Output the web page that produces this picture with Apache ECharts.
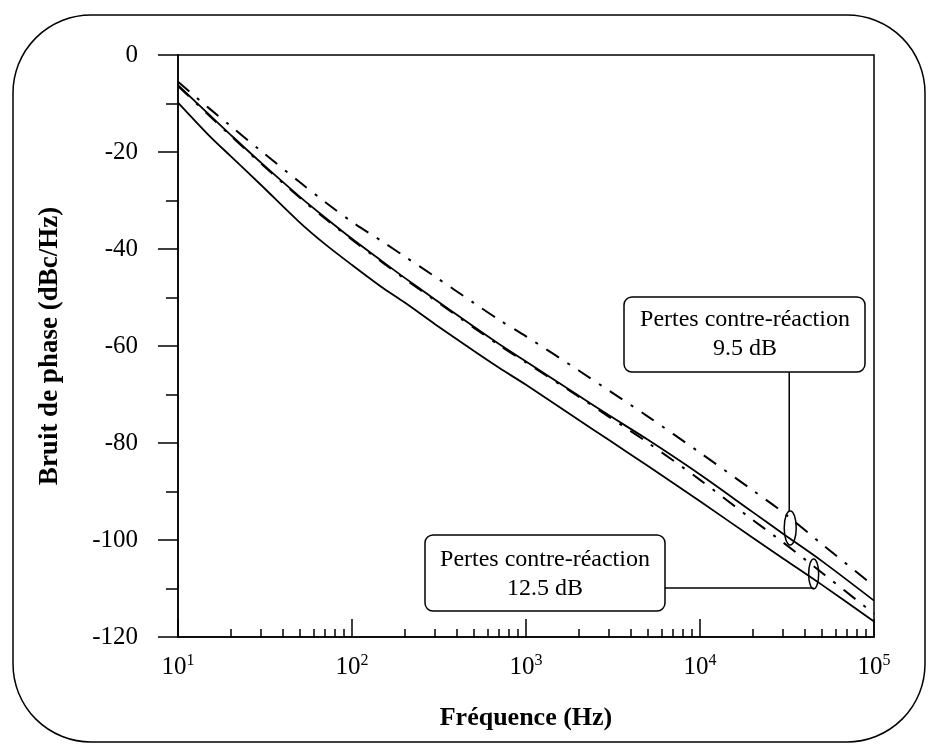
<!DOCTYPE html>
<html>
<head>
<meta charset="utf-8">
<script src="https://cdn.jsdelivr.net/npm/echarts@6/dist/echarts.min.js"></script>
<style>
html,body{margin:0;padding:0;background:#fff}
#chart{width:934px;height:745px}
</style>
</head>
<body>
<div id="chart"></div>
<script>
// frequences (Hz) des points relevés
var freq = [10, 15, 20, 30, 50, 70, 100, 150, 200, 300, 500, 700, 1000, 2000, 3000, 5000, 10000, 20000, 30000, 50000, 100000];
// pertes 9.5 dB
var solide95 = [-6.2, -12.2, -16.4, -22.2, -29.2, -33.5, -37.9, -42.6, -45.9, -50.4, -56.0, -59.6, -63.2, -70.2, -74.3, -79.3, -86.5, -94.2, -98.7, -104.3, -112.5];
var tiret95 = [-5.5, -10.9, -14.6, -19.8, -26.2, -30.3, -34.4, -38.5, -41.5, -45.7, -51.1, -54.6, -58.0, -65.0, -69.2, -74.5, -82.0, -89.7, -94.3, -100.8, -109.5];
// pertes 12.5 dB
var tiret125 = [-6.4, -12.4, -16.6, -22.4, -29.4, -33.7, -38.1, -42.8, -46.1, -50.6, -56.2, -59.8, -63.4, -70.4, -74.6, -79.9, -87.6, -95.8, -100.5, -106.7, -115.2];
var solide125 = [-9.8, -16.5, -20.8, -26.8, -34.5, -39.0, -43.3, -48.0, -51.0, -55.5, -61.0, -64.5, -68.0, -75.2, -79.4, -84.7, -92.0, -99.5, -103.8, -109.2, -116.8];
var yMin = -120, yMax = 0, yStep = 20;
var decades = [10, 100, 1000, 10000, 100000];
var xMinor = [];
for (var d = 0; d < decades.length - 1; d++) {
	for (var k = 2; k <= 9; k++) xMinor.push(k * decades[d]);
}

var police = '"Liberation Serif", "DejaVu Serif", serif';
var noir = '#000';

function points(vals) {
	var out = [];
	for (var i = 0; i < freq.length; i++) out.push([freq[i], vals[i]]);
	return out;
}

var chart = echarts.init(document.getElementById('chart'));

var option = {
	animation: false,
	backgroundColor: '#fff',
	textStyle: { fontFamily: police, color: noir },
	grid: { left: 178, top: 55, right: 60, bottom: 108, show: true, borderColor: noir, borderWidth: 1.5 },
	xAxis: [
		{
			type: 'log', logBase: 10, min: 10, max: 100000, position: 'bottom',
			name: 'Fréquence (Hz)', nameLocation: 'middle', nameGap: 68,
			nameTextStyle: { fontFamily: police, fontWeight: 'bold', fontSize: 26, color: noir },
			axisLine: { onZero: false, lineStyle: { color: noir, width: 1.5 } },
			axisTick: { inside: true, length: 18, lineStyle: { color: noir, width: 1.5 } },
			minorTick: { show: false },
			splitLine: { show: false },
			axisLabel: {
				margin: 16,
				formatter: function (v) {
					return '{b|10}{s|' + Math.round(Math.log(v) / Math.LN10) + '}';
				},
				rich: {
					b: { fontFamily: police, fontSize: 25, color: noir, lineHeight: 28 },
					s: { fontFamily: police, fontSize: 16, color: noir, verticalAlign: 'top', lineHeight: 16 }
				}
			}
		},
		{
			type: 'log', logBase: 10, min: 10, max: 100000, position: 'bottom',
			axisLine: { show: false, onZero: false },
			axisLabel: { show: false },
			splitLine: { show: false },
			axisTick: { inside: true, length: 8, customValues: xMinor, lineStyle: { color: noir, width: 1.5 } }
		}
	],
	yAxis: {
		type: 'value', min: yMin, max: yMax, interval: yStep,
		name: 'Bruit de phase (dBc/Hz)', nameLocation: 'middle', nameGap: 114, nameRotate: 90,
		nameTextStyle: { fontFamily: police, fontWeight: 'bold', fontSize: 27, color: noir },
		axisLine: { onZero: false, lineStyle: { color: noir, width: 1.5 } },
		axisTick: { length: 20, lineStyle: { color: noir, width: 1.5 } },
		minorTick: { show: true, splitNumber: 2, length: 12, lineStyle: { color: noir, width: 1.5 } },
		splitLine: { show: false },
		axisLabel: { margin: 40, fontFamily: police, fontSize: 25, color: noir }
	},
	series: [
		{ name: 'solide 9.5', type: 'line', data: points(solide95), smooth: 0.3, showSymbol: false,
		  lineStyle: { color: noir, width: 1.8 } },
		{ name: 'tiret 9.5', type: 'line', data: points(tiret95), smooth: 0.3, showSymbol: false,
		  lineStyle: { color: noir, width: 2, type: [15, 10, 3, 10] } },
		{ name: 'tiret 12.5', type: 'line', data: points(tiret125), smooth: 0.3, showSymbol: false,
		  lineStyle: { color: noir, width: 2, type: [15, 10, 3, 10] } },
		{ name: 'solide 12.5', type: 'line', data: points(solide125), smooth: 0.3, showSymbol: false,
		  lineStyle: { color: noir, width: 1.8 } }
	]
};
chart.setOption(option);

/***
 * cadre, boites et ellipses
 */
var e1 = chart.convertToPixel({ seriesIndex: 0 }, [33000, -97.5]);
var e2 = chart.convertToPixel({ seriesIndex: 0 }, [45000, -107]);
var trait = { fill: 'none', stroke: noir, lineWidth: 1.5 };
var texte = { fontFamily: police, fontSize: 24, fill: noir, align: 'center', verticalAlign: 'middle', lineHeight: 29 };

chart.setOption({
	graphic: [
		{ type: 'rect', shape: { x: 13, y: 15, width: 912, height: 727, r: 78 }, style: trait, silent: true },
		{ type: 'rect', shape: { x: 624, y: 297, width: 241, height: 75, r: 8 }, style: trait },
		{ type: 'text', x: 745, y: 334, style: echarts.util.extend({ text: 'Pertes contre-réaction\n9.5 dB' }, texte) },
		{ type: 'rect', shape: { x: 425, y: 535, width: 240, height: 76, r: 8 }, style: trait },
		{ type: 'text', x: 545, y: 574, style: echarts.util.extend({ text: 'Pertes contre-réaction\n12.5 dB' }, texte) },
		{ type: 'ellipse', shape: { cx: e1[0], cy: e1[1], rx: 6, ry: 17 }, style: trait },
		{ type: 'ellipse', shape: { cx: e2[0], cy: e2[1], rx: 5, ry: 15 }, style: trait },
		{ type: 'line', shape: { x1: e1[0] - 1, y1: 372, x2: e1[0] - 1, y2: e1[1] - 17 }, style: trait },
		{ type: 'line', shape: { x1: 665, y1: 588, x2: e2[0], y2: 588 }, style: trait }
	]
});
</script>
</body>
</html>
